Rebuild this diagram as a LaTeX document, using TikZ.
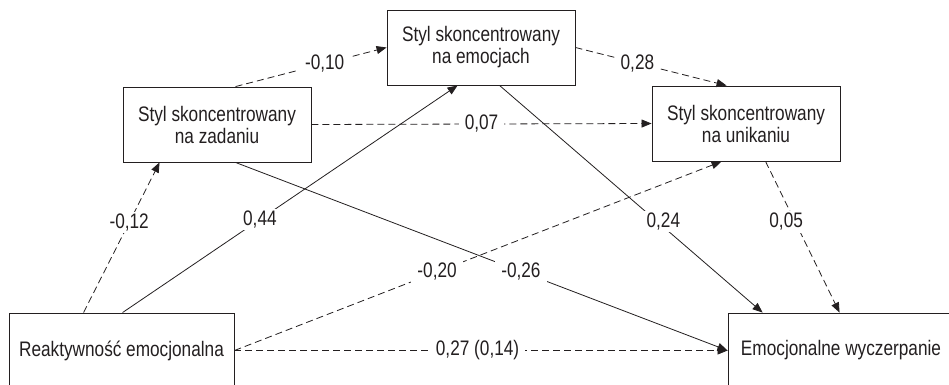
\documentclass[tikz,border=0pt]{standalone}
\usepackage{fontspec}
\setmainfont{Liberation Sans}[FakeStretch=0.82]
\usetikzlibrary{arrows.meta}
\definecolor{ink}{HTML}{231F20}
\begin{document}
\begin{tikzpicture}[x=1pt,y=-1pt,
  txt/.style={font=\fontsize{21}{22}\selectfont,text=ink},
  box/.style={txt,draw=ink,line width=0.9pt,minimum width=188pt,minimum height=75pt,inner sep=0pt,align=center},
  conn/.style={draw=ink,line width=0.8pt,-{Triangle[length=10pt,width=8pt]}},
  dsh/.style={conn,dash pattern=on 7pt off 4pt},
  lab/.style={txt,fill=white,inner xsep=6pt,inner ysep=2pt}]
\clip (0,0) rectangle (949,384);
\fill[white] (0,0) rectangle (949,384);
\node[box] (emo) at (481,47.5) {Styl skoncentrowany\\na emocjach};
\node[box] (zad) at (217,124.5) {Styl skoncentrowany\\na zadaniu};
\node[box] (uni) at (746,123.5) {Styl skoncentrowany\\na unikaniu};
\node[box,minimum width=225pt] (reakt) at (121.5,350.5) {Reaktywność emocjonalna};
\node[box,minimum width=226pt] (wycz) at (841,350.5) {Emocjonalne wyczerpanie};

\draw[dsh] ([xshift=75pt]reakt.north west) -- node[lab,pos=0.6]{-0,12} ([xshift=37pt]zad.south west);
\draw[conn] ([xshift=114pt]reakt.north west) -- node[lab,pos=0.41]{0,44} ([xshift=71pt]emo.south west);
\draw[dsh] (reakt.east) -- node[lab,pos=0.416]{-0,20} ([xshift=70pt]uni.south west);
\draw[dsh] (reakt.east) -- node[lab,pos=0.493]{0,27 (0,14)} (wycz.west);
\draw[dsh] ([xshift=113pt]zad.north west) -- node[lab,pos=0.59]{-0,10} (emo.west);
\draw[dsh] (zad.east) -- node[lab,pos=0.5]{0,07} (uni.west);
\draw[conn] ([xshift=113pt]zad.south west) -- node[lab,pos=0.58]{-0,26} (wycz.west);
\draw[dsh] (emo.east) -- node[lab,pos=0.41]{0,28} ([xshift=75pt]uni.north west);
\draw[conn] ([xshift=113pt]emo.south west) -- node[lab,pos=0.6,xshift=6pt]{0,24} ([xshift=35pt]wycz.north west);
\draw[dsh] ([xshift=114pt]uni.south west) -- node[lab,pos=0.4,xshift=-9pt]{0,05} ([xshift=112pt]wycz.north west);
\end{tikzpicture}
\end{document}
